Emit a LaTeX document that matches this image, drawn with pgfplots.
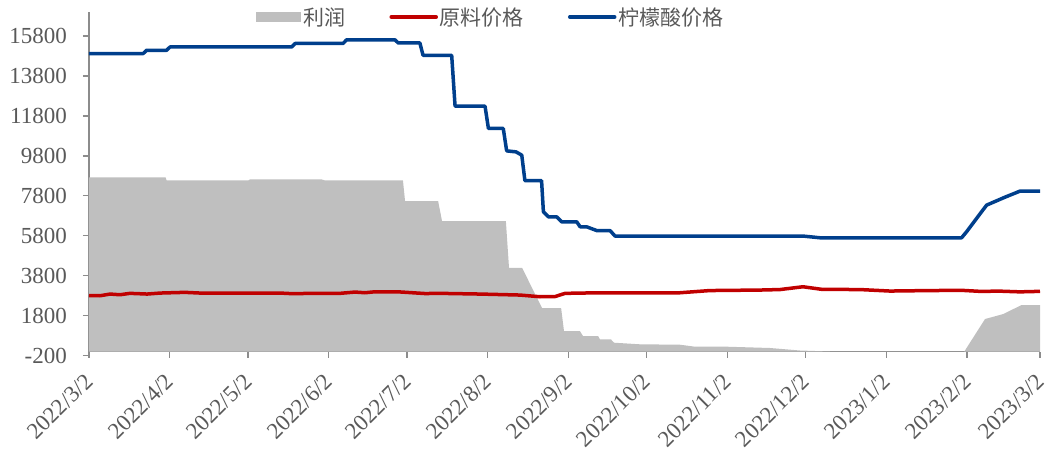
\documentclass[border=0pt]{standalone}
\usepackage{fontspec}
\setmainfont{Liberation Serif}
\newfontfamily\cjk{Noto Sans CJK SC}
\usepackage{pgfplots}
\pgfplotsset{compat=1.18}

\definecolor{profitgray}{HTML}{BFBFBF}
\definecolor{rawred}{HTML}{C00000}
\definecolor{acidblue}{HTML}{003F8C}
\definecolor{axgray}{HTML}{8C8C8C}
\definecolor{txtgray}{HTML}{595959}

\begin{document}
\begin{tikzpicture}
\useasboundingbox (-89bp,-95.3bp) rectangle (959bp,355.7bp);
\begin{axis}[
    at={(0,0)}, anchor=south west,
    scale only axis,
    width=951bp, height=343.7bp,
    xmin=0, xmax=365,
    ymin=-200, ymax=17000,
    axis x line=middle, axis y line=left,
    hide obscured x ticks=false, hide obscured y ticks=false,
    axis line style={draw=axgray, line width=1.3bp, -},
    tick style={draw=axgray, line width=1.3bp},
    tick align=outside,
    major tick length=6bp,
    xtick={0,31,61,92,122,153,184,214,245,275,306,337,365},
    xticklabels={2022/3/2,2022/4/2,2022/5/2,2022/6/2,2022/7/2,2022/8/2,2022/9/2,2022/10/2,2022/11/2,2022/12/2,2023/1/2,2023/2/2,2023/3/2},
    ytick={-200,1800,...,15800},
    scaled y ticks=false,
    /pgf/number format/1000 sep={},
    /pgf/number format/assume math mode=true,
    tick label style={font=\fontsize{23bp}{27bp}\selectfont, text=txtgray},
    x tick label style={xshift=-5.5bp, yshift=-12.8bp, rotate=45, anchor=north east, inner sep=1bp},
    y tick label style={inner sep=2bp, xshift=-14bp},
    legend columns=3,
    legend style={at={(0.4227,0.9855)}, anchor=center, draw=none, fill=none,
        font=\cjk\fontsize{21bp}{25bp}\selectfont, text=txtgray,
        nodes={inner sep=2bp},
        /tikz/every even column/.append style={column sep=42bp}},
]
% 利润
\addplot[fill=profitgray, draw=none,
    legend image code/.code={\fill[profitgray] (0bp,-5bp) rectangle (45bp,5bp);}]
  coordinates {
    (0,0) (0,8720) (29.4,8720) (29.8,8570) (61.1,8570) (61.8,8620) (89.3,8620)
    (90.6,8570) (120.5,8570) (121.3,7535) (134.0,7535) (135.5,6535) (160.0,6535)
    (161.2,4200) (166.2,4200) (173.9,2185) (181.2,2185) (182.3,1035) (188.4,1035)
    (189.6,785) (195.4,785) (196.1,620) (200.3,620) (201.5,450) (211.5,370)
    (226.8,350) (232.6,250) (244.9,250) (261.4,185) (272.9,60) (284.4,10)
    (335.9,0) (343.9,1635) (350.9,1885) (357.9,2335) (365,2335) (365,0)
  };
\addlegendentry{利润}
% 原料价格
\addplot[rawred, line width=3.5bp, line join=round,
    legend image code/.code={\draw[rawred, line width=3.5bp, line cap=round] (0bp,0bp) -- (45bp,0bp);}]
  coordinates {
    (0,2810) (4.2,2800) (8.1,2885) (11.9,2850) (15.7,2920) (19.6,2900)
    (22.3,2885) (27.3,2935) (36.8,2970) (42.6,2935) (73.3,2935) (77.1,2910)
    (96.3,2920) (102.1,2985) (105.9,2950) (109.8,3000) (119.4,2990) (129.0,2910)
    (134.7,2920) (150.1,2885) (165.4,2835) (173.1,2750) (178.9,2760) (182.7,2920)
    (196.1,2950) (226.8,2950) (238.3,3060) (257.5,3085) (265.2,3110) (274.0,3250)
    (281.3,3120) (295.9,3110) (307.4,3035) (322.8,3060) (335.1,3070) (342.0,3020)
    (349.6,3030) (357.3,2995) (365,3020)
  };
\addlegendentry{原料价格}
% 柠檬酸价格
\addplot[acidblue, line width=3.5bp, line join=round,
    legend image code/.code={\draw[acidblue, line width=3.5bp, line cap=round] (0bp,0bp) -- (45bp,0bp);}]
  coordinates {
    (0,14920) (20.8,14920) (22.1,15085) (29.8,15085) (31.1,15250) (77.8,15250)
    (79.1,15425) (97.5,15425) (98.9,15610) (117.4,15610) (118.7,15450) (127.0,15450)
    (128.2,14835) (139.2,14835) (140.5,12285) (152.0,12285) (153.3,11170) (159.0,11170)
    (160.3,10050) (163.9,10000) (166.1,9835) (167.3,8560) (173.7,8560) (174.4,7000)
    (176.3,6750) (179.5,6750) (181.4,6500) (187.2,6500) (188.5,6250) (191.0,6250)
    (194.9,6060) (200.0,6060) (201.9,5785) (274.2,5785) (280.6,5700) (334.9,5700)
    (336.8,6000) (344.5,7335) (351.6,7735) (357.3,8035) (365,8035)
  };
\addlegendentry{柠檬酸价格}
\end{axis}
\end{tikzpicture}
\end{document}
